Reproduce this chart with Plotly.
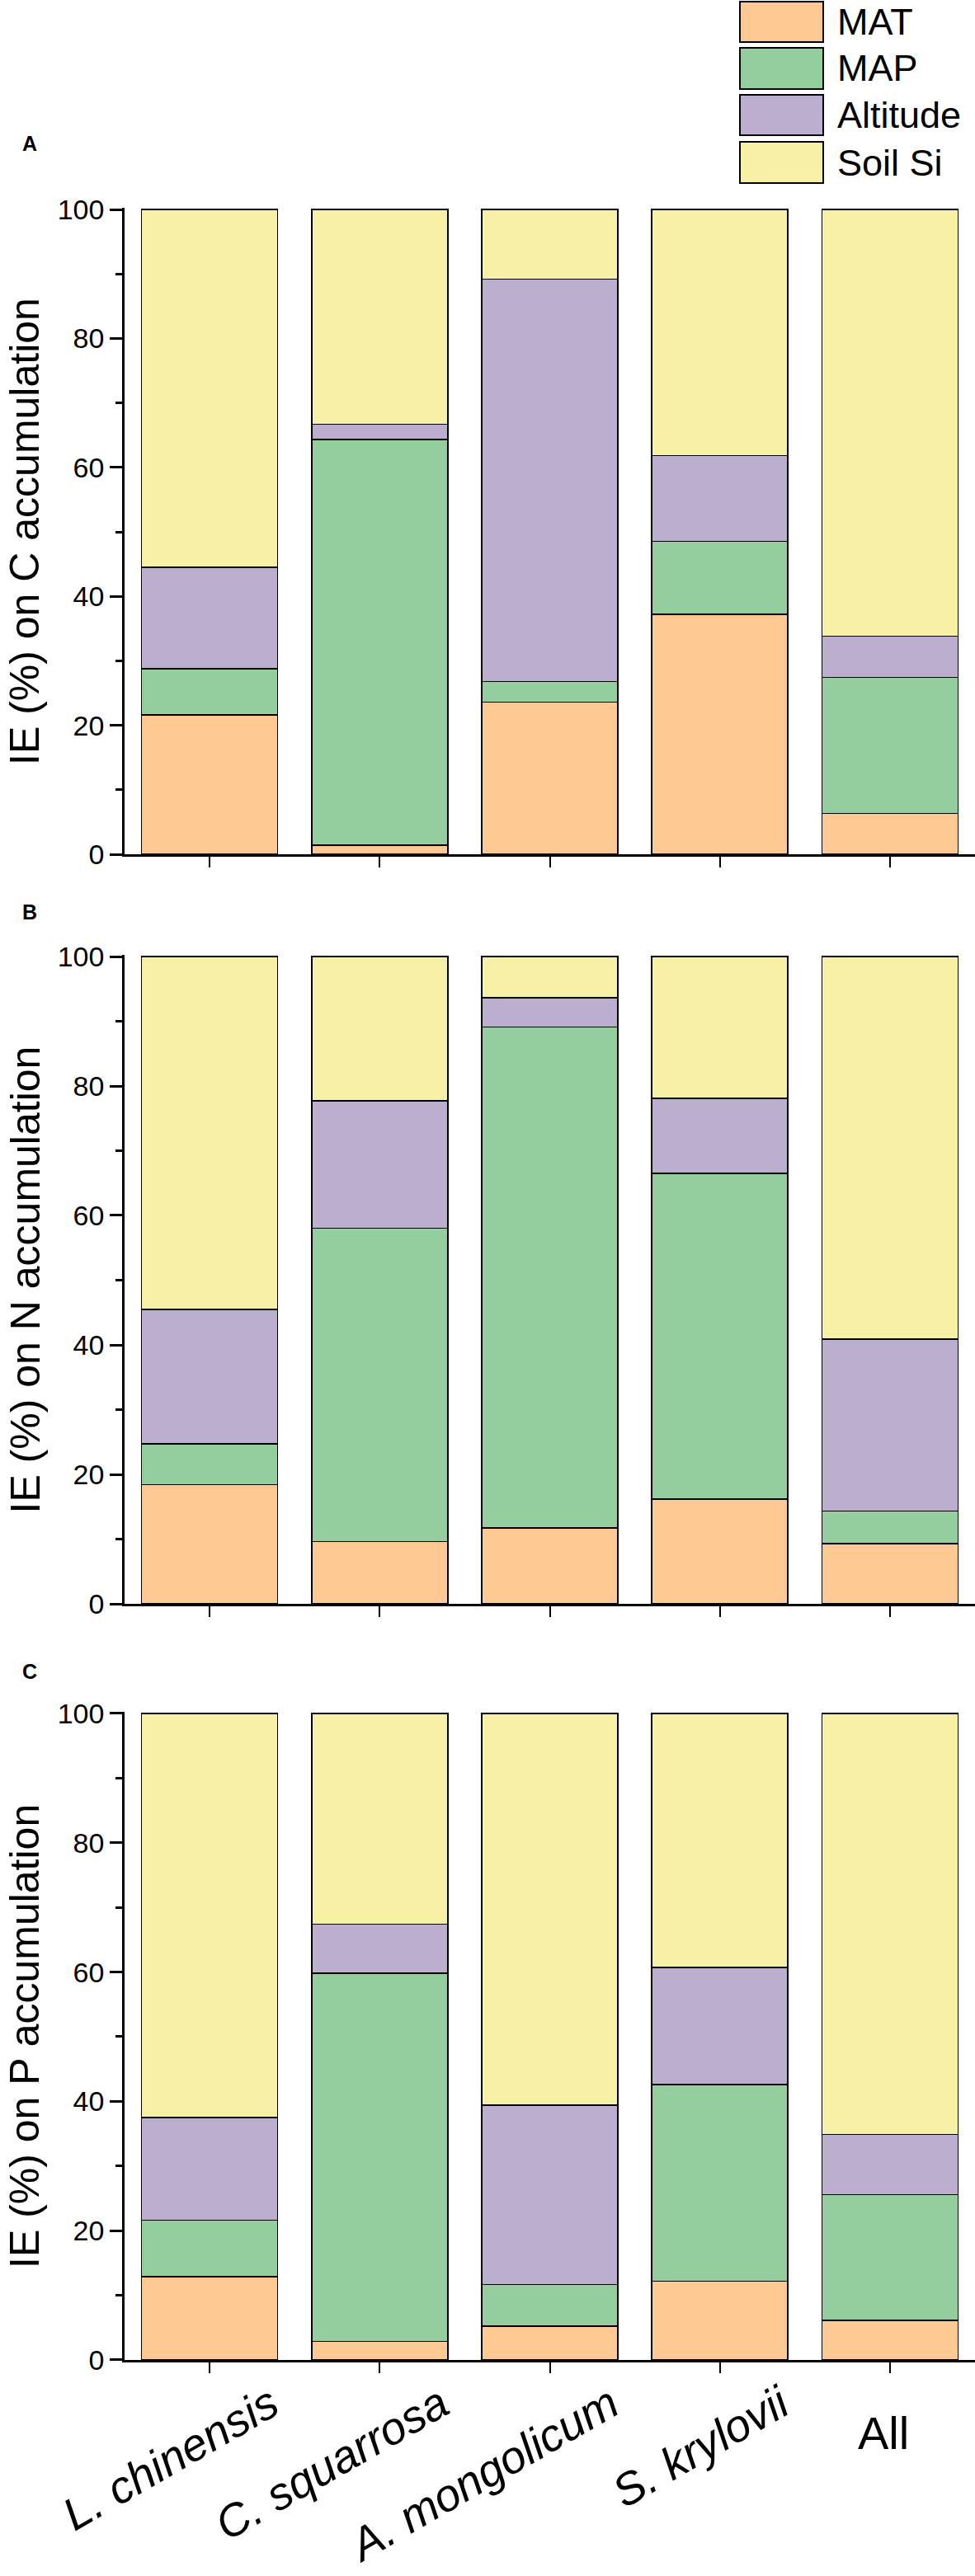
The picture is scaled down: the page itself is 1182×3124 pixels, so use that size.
import plotly.graph_objects as go

W, H = 1182, 3124
FONT = "Liberation Sans, Arial, sans-serif"

categories = ["L. chinensis", "C. squarrosa", "A. mongolicum", "S. krylovii", "All"]
factors = ["MAT", "MAP", "Altitude", "Soil Si"]
colors = ["#FDC891", "#94CE9E", "#BCAECE", "#F7F1A6"]

# IE (%) on C accumulation
c_mat = [21.6, 1.4, 23.6, 37.2, 6.3]
c_map = [7.2, 62.9, 3.2, 11.3, 21.1]
c_alt = [15.7, 2.4, 62.4, 13.3, 6.4]
c_soil = [55.5, 33.3, 10.8, 38.2, 66.2]

# IE (%) on N accumulation
n_mat = [18.4, 9.6, 11.7, 16.2, 9.3]
n_map = [6.3, 48.4, 77.4, 50.3, 5.0]
n_alt = [20.8, 19.7, 4.5, 11.6, 26.6]
n_soil = [54.5, 22.3, 6.4, 21.9, 59.1]

# IE (%) on P accumulation
p_mat = [12.9, 2.9, 5.2, 12.2, 6.1]
p_map = [8.7, 56.9, 6.5, 30.4, 19.5]
p_alt = [15.9, 7.6, 27.7, 18.1, 9.3]
p_soil = [62.5, 32.6, 60.6, 39.3, 65.1]

# letter, y title, series, pixel rows of y=100 and y=0, letter row
panels = [
    ("A", "IE (%) on C accumulation", [c_mat, c_map, c_alt, c_soil], 254, 1036, 174),
    ("B", "IE (%) on N accumulation", [n_mat, n_map, n_alt, n_soil], 1160, 1945, 1106),
    ("C", "IE (%) on P accumulation", [p_mat, p_map, p_alt, p_soil], 2078, 2862, 2027),
]

YMAX = 100.3


def py(px):
    return 1 - px / H


fig = go.Figure()
annotations = []
shapes = []

for i, (letter, ytitle, series, top, bottom, letter_y) in enumerate(panels):
    s = "" if i == 0 else str(i + 1)
    last = i == len(panels) - 1
    for name, vals, col in zip(factors, series, colors):
        fig.add_trace(go.Bar(
            x=categories, y=vals, name=name,
            marker=dict(color=col, line=dict(color="black", width=1.5)),
            xaxis="x" + s, yaxis="y" + s, showlegend=False,
        ))
    ppu = (bottom - top) / 100.0
    dom_top = top - (YMAX - 100) * ppu
    xa = dict(
        domain=[151 / W, 1.0], range=[-0.5, 4.5], anchor="y" + s,
        showline=True, linecolor="black", linewidth=2.5,
        ticks="outside", ticklen=13, tickwidth=2, tickcolor="black",
        showticklabels=False, showgrid=False, zeroline=False, automargin=False,
    )
    if last:
        # species names slanted, "All" is written upright below
        xa.update(
            showticklabels=True, tickmode="array", tickvals=categories,
            ticktext=["<i>" + c + "</i>" for c in categories[:4]] + [""],
            tickangle=-30, ticklabelshift=74, ticklabelstandoff=-15,
            tickfont=dict(family=FONT, size=55, color="black"),
        )
    fig.update_layout(**{
        "xaxis" + s: xa,
        "yaxis" + s: dict(
            domain=[py(bottom), py(dom_top)], range=[0, YMAX], anchor="x" + s,
            showline=True, linecolor="black", linewidth=2.5,
            ticks="outside", ticklen=15, tickwidth=2.5, tickcolor="black",
            tickvals=[0, 20, 40, 60, 80, 100],
            minor=dict(tickvals=[10, 30, 50, 70, 90], ticks="outside",
                       ticklen=8, tickwidth=2.5, tickcolor="black"),
            tickfont=dict(family=FONT, size=34, color="black"),
            showgrid=False, zeroline=False, automargin=False,
        ),
    })
    annotations.append(dict(
        text=ytitle, textangle=-90, xref="paper", yref="paper",
        x=30 / W, y=py((top + bottom) / 2), xanchor="center", yanchor="middle",
        showarrow=False, font=dict(family=FONT, size=50, color="black"),
    ))
    annotations.append(dict(
        text="<b>" + letter + "</b>", xref="paper", yref="paper",
        x=25 / W, y=py(letter_y), xanchor="left", yanchor="middle",
        showarrow=False, font=dict(family=FONT, size=25, color="black"),
    ))

annotations.append(dict(
    text=categories[4], xref="x3", yref="paper", x=categories[4],
    y=py(panels[-1][4]), xshift=-8, yshift=-88,
    xanchor="center", yanchor="middle", showarrow=False,
    font=dict(family=FONT, size=56, color="black"),
))

# legend block at the top right
legend_rows = [(2, 51), (58, 108), (115, 164), (172, 222)]
for name, col, (y0, y1) in zip(factors, colors, legend_rows):
    shapes.append(dict(
        type="rect", xref="paper", yref="paper",
        x0=897 / W, x1=998 / W, y0=py(y1), y1=py(y0),
        fillcolor=col, line=dict(color="black", width=2),
    ))
    annotations.append(dict(
        text=name, xref="paper", yref="paper", x=1013 / W, y=py((y0 + y1) / 2),
        xanchor="left", yanchor="middle", showarrow=False,
        font=dict(family=FONT, size=45, color="black"),
    ))

fig.update_layout(
    width=W, height=H, barmode="stack", bargap=0.2,
    margin=dict(l=0, r=0, t=0, b=0, autoexpand=False),
    paper_bgcolor="white", plot_bgcolor="white",
    annotations=annotations, shapes=shapes,
    font=dict(family=FONT, color="black"),
)

fig.write_html("out.html", config={"displayModeBar": False},
               post_script="document.body.style.margin='0px';")
